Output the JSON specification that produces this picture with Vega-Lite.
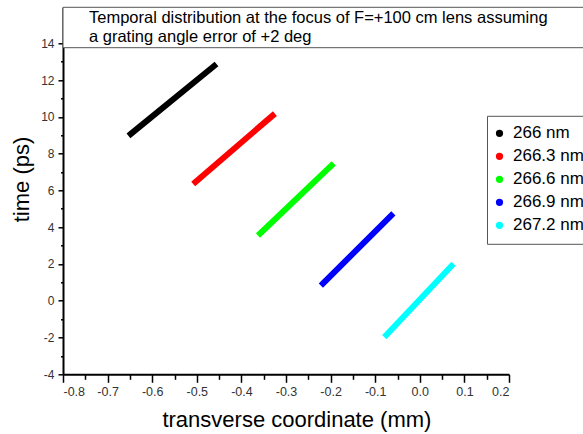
{
  "$schema": "https://vega.github.io/schema/vega-lite/v6.json",
  "width": 446,
  "height": 367,
  "autosize": {"type": "none"},
  "padding": {"left": 63, "top": 7.3, "right": 74, "bottom": 59.7},
  "background": "white",
  "config": {
    "view": {"stroke": null},
    "font": "Liberation Sans",
    "axis": {"grid": false, "zindex": 0}
  },
  "title": {
    "text": ["Temporal distribution at the focus of F=+100 cm lens assuming", "a grating angle error of +2 deg"],
    "anchor": "start",
    "frame": "group",
    "orient": "top",
    "offset": 0,
    "dx": 26,
    "dy": 39,
    "baseline": "top",
    "fontSize": 16.5,
    "fontWeight": "normal",
    "font": "Liberation Sans",
    "lineHeight": 19.5,
    "color": "#000000",
    "zindex": 2
  },
  "datasets": {
    "traces": [
      {"wl": "266 nm", "x": -0.648, "y": 9.07},
      {"wl": "266 nm", "x": -0.461, "y": 12.77},
      {"wl": "266.3 nm", "x": -0.503, "y": 6.46},
      {"wl": "266.3 nm", "x": -0.330, "y": 10.07},
      {"wl": "266.6 nm", "x": -0.358, "y": 3.66},
      {"wl": "266.6 nm", "x": -0.198, "y": 7.36},
      {"wl": "266.9 nm", "x": -0.217, "y": 0.94},
      {"wl": "266.9 nm", "x": -0.064, "y": 4.64},
      {"wl": "267.2 nm", "x": -0.075, "y": -1.86},
      {"wl": "267.2 nm", "x": 0.071, "y": 1.89}
    ],
    "box": [
      {"x": -0.8, "x2": 0.5, "y": 13.76, "y2": 15.957}
    ]
  },
  "layer": [
    {
      "data": {"name": "traces"},
      "mark": {"type": "line", "strokeWidth": 6, "strokeCap": "square"},
      "encoding": {
        "x": {
          "field": "x", "type": "quantitative",
          "scale": {"domain": [-0.8, 0.2], "nice": false, "zero": false},
          "axis": {
            "orient": "bottom",
            "values": [-0.8, -0.7, -0.6, -0.5, -0.4, -0.3, -0.2, -0.1, 0, 0.1, 0.2],
            "labelExpr": "replace(format(datum.value, '.1f'), '\u2212', '-')",
            "domainColor": "#000000", "domainWidth": 2,
            "tickColor": "#000000", "tickWidth": 1.5, "tickSize": 8,
            "labelFont": "Liberation Sans", "labelFontSize": 12.5, "labelColor": "#333333", "labelPadding": 3,
            "title": "transverse coordinate (mm)",
            "titleFont": "Liberation Sans", "titleFontSize": 22, "titleFontWeight": "normal", "titleColor": "#000000",
            "titleX": 233.4, "titleY": 52.2, "titleAlign": "center", "titleBaseline": "alphabetic"
          }
        },
        "y": {
          "field": "y", "type": "quantitative",
          "scale": {"domain": [-4, 15.957], "nice": false, "zero": false},
          "axis": {
            "orient": "left",
            "values": [-4, -2, 0, 2, 4, 6, 8, 10, 12, 14],
            "labelExpr": "replace(format(datum.value, 'd'), '\u2212', '-')",
            "domainColor": "#000000", "domainWidth": 2,
            "tickColor": "#000000", "tickWidth": 1.5, "tickSize": 5,
            "labelFont": "Liberation Sans", "labelFontSize": 12, "labelColor": "#333333", "labelPadding": 4,
            "title": "time (ps)",
            "titleFont": "Liberation Sans", "titleFontSize": 22, "titleFontWeight": "normal", "titleColor": "#000000",
            "titleAngle": -90, "titleX": -34.7, "titleY": 171.7, "titleAlign": "center", "titleBaseline": "alphabetic"
          }
        },
        "color": {
          "field": "wl", "type": "nominal",
          "scale": {
            "domain": ["266 nm", "266.3 nm", "266.6 nm", "266.9 nm", "267.2 nm"],
            "range": ["#000000", "#ff0000", "#00ff00", "#0000ff", "#00ffff"]
          },
          "legend": {
            "title": null,
            "orient": "none",
            "legendX": 424,
            "legendY": 108.5,
            "symbolType": "circle",
            "symbolSize": 14,
            "symbolStrokeWidth": 3.5,
            "symbolOffset": -5,
            "labelFont": "Liberation Sans",
            "labelFontSize": 17,
            "labelColor": "#000000",
            "labelOffset": 5,
            "rowPadding": 4,
            "padding": 9,
            "strokeColor": "#555555",
            "fillColor": "#ffffff",
            "zindex": 2
          }
        },
        "detail": {"field": "wl"}
      }
    },
    {
      "data": {"name": "traces"},
      "mark": {"type": "point", "opacity": 0},
      "encoding": {
        "x": {
          "field": "x", "type": "quantitative",
          "scale": {"domain": [-0.8, 0.2], "nice": false, "zero": false},
          "axis": {
            "orient": "bottom",
            "values": [-0.75, -0.65, -0.55, -0.45, -0.35, -0.25, -0.15, -0.05, 0.05, 0.15],
            "labels": false, "domain": false, "title": null,
            "tickColor": "#000000", "tickWidth": 1.5, "tickSize": 5
          }
        },
        "y": {
          "field": "y", "type": "quantitative",
          "scale": {"domain": [-4, 15.957], "nice": false, "zero": false},
          "axis": {
            "orient": "left",
            "values": [-3, -1, 1, 3, 5, 7, 9, 11, 13],
            "labels": false, "domain": false, "title": null,
            "tickColor": "#000000", "tickWidth": 1.5, "tickSize": 2.5
          }
        }
      }
    },
    {
      "data": {"name": "box"},
      "mark": {"type": "rect", "fill": "#ffffff", "stroke": "#555555", "strokeWidth": 1, "clip": false},
      "encoding": {
        "x": {"field": "x", "type": "quantitative", "axis": null},
        "x2": {"field": "x2"},
        "y": {"field": "y", "type": "quantitative", "axis": null},
        "y2": {"field": "y2"}
      }
    }
  ],
  "resolve": {"axis": {"x": "independent", "y": "independent"}}
}
